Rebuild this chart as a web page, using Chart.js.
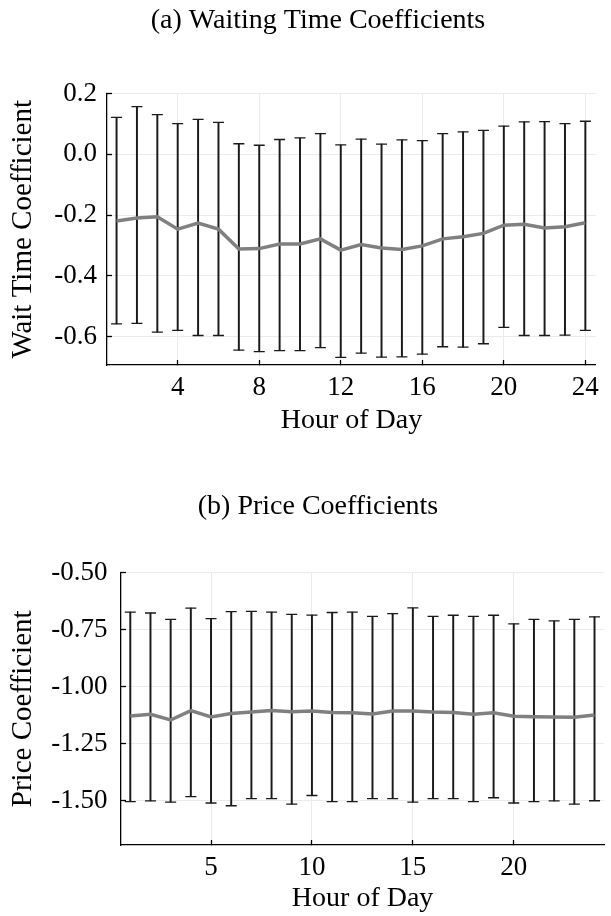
<!DOCTYPE html>
<html>
<head>
<meta charset="utf-8">
<script src="https://cdn.jsdelivr.net/npm/chart.js@4.4.0/dist/chart.umd.min.js"></script>
<style>
  html, body { margin: 0; padding: 0; background: #fff; }
  canvas { display: block; }
</style>
</head>
<body>
<canvas id="waitChart" width="611" height="458"></canvas>
<canvas id="priceChart" width="611" height="458"></canvas>
<script>
// hours 1..24
const hours = [1, 2, 3, 4, 5, 6, 7, 8, 9, 10, 11, 12, 13, 14, 15, 16, 17, 18, 19, 20, 21, 22, 23, 24];

// (a) wait time coefficients, mean and interval ends
const waitMean = [-0.219, -0.209, -0.205, -0.246, -0.226, -0.246, -0.311, -0.310, -0.295, -0.295, -0.278, -0.315,
                  -0.297, -0.308, -0.313, -0.301, -0.278, -0.271, -0.260, -0.233, -0.230, -0.242, -0.238, -0.225];
const waitHigh = [0.122, 0.157, 0.131, 0.101, 0.115, 0.105, 0.035, 0.030, 0.049, 0.054, 0.068, 0.031,
                  0.050, 0.034, 0.048, 0.045, 0.068, 0.074, 0.079, 0.093, 0.107, 0.108, 0.101, 0.109];
const waitLow = [-0.558, -0.556, -0.585, -0.579, -0.596, -0.596, -0.644, -0.649, -0.646, -0.646, -0.636, -0.668,
                 -0.654, -0.667, -0.666, -0.657, -0.633, -0.634, -0.623, -0.569, -0.596, -0.596, -0.595, -0.579];

// (b) price coefficients
const priceMean = [-1.129, -1.121, -1.146, -1.105, -1.133, -1.118, -1.111, -1.105, -1.110, -1.107, -1.113, -1.114,
                   -1.120, -1.107, -1.107, -1.111, -1.113, -1.121, -1.114, -1.130, -1.132, -1.133, -1.134, -1.124];
const priceHigh = [-0.673, -0.677, -0.705, -0.656, -0.702, -0.671, -0.670, -0.673, -0.683, -0.686, -0.675, -0.673,
                   -0.692, -0.680, -0.655, -0.692, -0.687, -0.692, -0.687, -0.725, -0.705, -0.712, -0.705, -0.694];
const priceLow = [-1.504, -1.501, -1.506, -1.482, -1.510, -1.522, -1.491, -1.491, -1.515, -1.477, -1.504, -1.504,
                  -1.491, -1.491, -1.506, -1.491, -1.491, -1.504, -1.487, -1.510, -1.504, -1.501, -1.515, -1.500];

// tick labels
const waitXTicks = [4, 8, 12, 16, 20, 24];
const waitYTicks = [-0.6, -0.4, -0.2, 0.0, 0.2];
const priceXTicks = [5, 10, 15, 20];
const priceYTicks = [-1.5, -1.25, -1.0, -0.75, -0.5];

const serif = "'Liberation Serif', 'Times New Roman', serif";
const ink = '#1a1a1a';

function makeChart(id, s) {
    const ctx = document.getElementById(id).getContext('2d');
    return new Chart(ctx, {
        type: 'line',
        data: {
            datasets: [
                {
                    // the coefficient line, drawn on top
                    type: 'line',
                    data: hours.map((h, i) => ({ x: h, y: s.mean[i] })),
                    borderColor: 'rgb(128,128,128)',
                    borderWidth: 3.5,
                    pointRadius: 0,
                    tension: 0,
                    order: 0
                },
                {
                    // vertical part of the error bars
                    type: 'bar',
                    data: hours.map((h, i) => ({ x: h, y: [s.low[i], s.high[i]] })),
                    backgroundColor: ink,
                    barThickness: 1.3,
                    grouped: false,
                    order: 2
                },
                {
                    // caps of the error bars
                    type: 'line',
                    data: hours.map((h, i) => ({ x: h, y: s.low[i] }))
                        .concat(hours.map((h, i) => ({ x: h, y: s.high[i] }))),
                    showLine: false,
                    pointStyle: 'line',
                    pointRadius: 5.5,
                    pointBorderWidth: 1.3,
                    pointBorderColor: ink,
                    order: 1
                }
            ]
        },
        options: {
            responsive: false,
            animation: false,
            // left padding pushes the centred title a bit right, as in the figure
            layout: { padding: { left: 30, right: 5, top: 0, bottom: 0 } },
            plugins: {
                legend: { display: false },
                tooltip: { enabled: false },
                title: {
                    display: true,
                    text: s.title,
                    color: '#000',
                    font: { family: serif, size: 28, weight: 'normal' },
                    padding: { top: s.titleTop, bottom: s.titleBottom }
                }
            },
            scales: {
                x: {
                    type: 'linear',
                    min: s.xMin,
                    max: s.xMax,
                    offset: false,
                    afterBuildTicks: sc => { sc.ticks = s.xTicks.map(v => ({ value: v })); },
                    afterFit: sc => { sc.height = s.bottomHeight; },
                    ticks: {
                        color: '#000',
                        font: { family: serif, size: 27 },
                        padding: 12,
                        maxRotation: 0,
                        autoSkip: false
                    },
                    grid: { offset: false, color: '#ebebeb', lineWidth: 1, tickColor: '#000', tickLength: -5, tickWidth: 1.3 },
                    border: { display: true, color: '#000', width: 1.3 },
                    title: {
                        display: true,
                        text: 'Hour of Day',
                        color: '#000',
                        font: { family: serif, size: 28 },
                        padding: { top: 0, bottom: s.xTitlePad }
                    }
                },
                y: {
                    type: 'linear',
                    min: s.yMin,
                    max: s.yMax,
                    afterBuildTicks: sc => { sc.ticks = s.yTicks.map(v => ({ value: v })); },
                    afterFit: sc => { sc.width = s.leftWidth; },
                    ticks: {
                        color: '#000',
                        font: { family: serif, size: 27 },
                        padding: s.yTickPad,
                        callback: v => v.toFixed(s.digits)
                    },
                    grid: { color: '#ebebeb', lineWidth: 1, tickColor: '#000', tickLength: -5, tickWidth: 1.3 },
                    border: { display: true, color: '#000', width: 1.3 },
                    title: {
                        display: true,
                        text: s.yTitle,
                        color: '#000',
                        font: { family: serif, size: 29 },
                        padding: { top: s.yTitlePad, bottom: 0 }
                    }
                }
            }
        }
    });
}

const waitChart = makeChart('waitChart', {
    title: '(a) Waiting Time Coefficients',
    yTitle: 'Wait Time Coefficient',
    mean: waitMean, low: waitLow, high: waitHigh,
    xTicks: waitXTicks, yTicks: waitYTicks,
    xMin: 0.531, xMax: 24.52, yMin: -0.693, yMax: 0.2,
    digits: 1,
    titleTop: 4, titleBottom: 56,
    leftWidth: 77, bottomHeight: 93,
    xTitlePad: 21, yTitlePad: -24.4, yTickPad: 15
});

const priceChart = makeChart('priceChart', {
    title: '(b) Price Coefficients',
    yTitle: 'Price Coefficient',
    mean: priceMean, low: priceLow, high: priceHigh,
    xTicks: priceXTicks, yTicks: priceYTicks,
    xMin: 0.54, xMax: 24.48, yMin: -1.694, yMax: -0.5,
    digits: 2,
    titleTop: 32, titleBottom: 49,
    leftWidth: 91, bottomHeight: 71,
    xTitlePad: 1, yTitlePad: -24.4, yTickPad: 18.5
});
</script>
</body>
</html>
